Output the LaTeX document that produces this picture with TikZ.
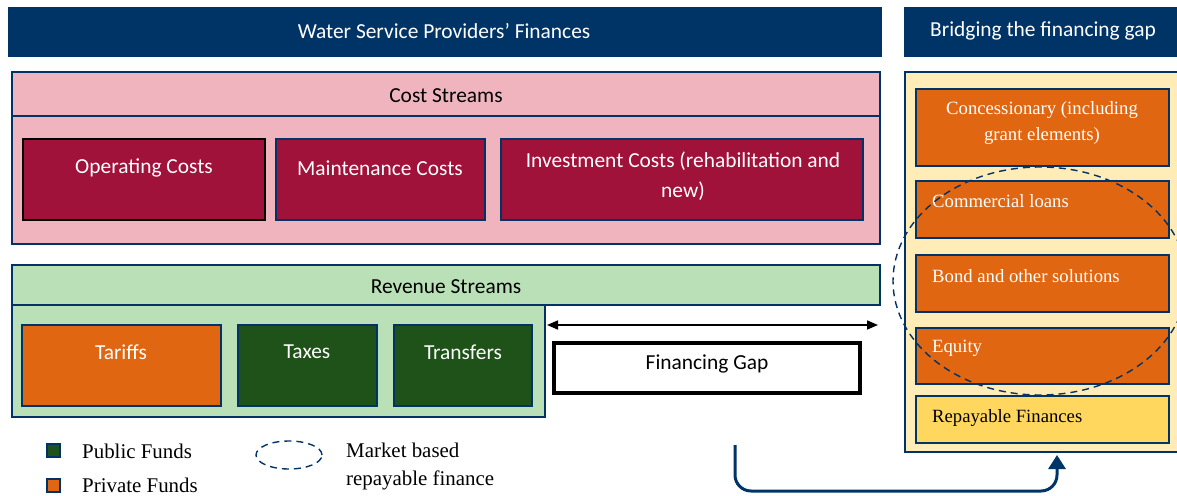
\documentclass[tikz,border=0pt]{standalone}
\usepackage{fontspec}
\setmainfont{Liberation Serif}
\setsansfont{Carlito}
\usetikzlibrary{arrows.meta}
\definecolor{navy}{RGB}{0,51,102}
\definecolor{costpink}{RGB}{240,180,190}
\definecolor{crimson}{RGB}{160,18,58}
\definecolor{revgreen}{RGB}{185,224,182}
\definecolor{darkgreen}{RGB}{30,82,24}
\definecolor{fundorange}{RGB}{224,102,18}
\definecolor{paleyellow}{RGB}{255,236,182}
\definecolor{repayyellow}{RGB}{255,215,95}
\begin{document}
\begin{tikzpicture}[x=1pt,y=-1pt,
  wh/.style 2 args={minimum width=#1pt, minimum height=#2pt},
  box/.style={draw=navy, line width=1.2pt, inner sep=0pt, outer sep=0pt, anchor=north west},
  sanstxt/.style={font=\sffamily\fontsize{21.4}{30}\selectfont, inner sep=0pt, align=center},
  seriftxt/.style={font=\rmfamily\fontsize{18.7}{26}\selectfont, inner sep=0pt, align=center},
  legtxt/.style={font=\rmfamily\fontsize{20.9}{30}\selectfont, inner sep=0pt, anchor=west},
  marketring/.style={draw=navy, line width=1.4pt, dash pattern=on 7pt off 5pt}
]
\useasboundingbox (0,0) rectangle (1177,495);

% headers
\node[box, fill=navy, wh={872}{48}] (hdrL) at (9,8) {};
\node[sanstxt, text=white] at (444,31) {Water Service Providers’ Finances};
\node[box, fill=navy, wh={280}{48}] (hdrR) at (905,8) {};
\node[sanstxt, text=white] at (1043,31) {Bridging the financing gap};

% cost streams
\node[box, fill=costpink, wh={868}{44}] (costH) at (12,72) {};
\node[sanstxt] at (446,96) {Cost Streams};
\node[box, fill=costpink, wh={868}{128}] (costB) at (12,116) {};
\node[box, draw=black, line width=1.8pt, fill=crimson, wh={242}{81}] (opc) at (23,139) {};
\node[sanstxt, text=white] at (144,168) {Operating Costs};
\node[box, fill=crimson, wh={209}{81}] (mnc) at (276,139) {};
\node[sanstxt, text=white] at (380,168) {Maintenance Costs};
\node[box, fill=crimson, wh={362}{81}] (inv) at (501,139) {};
\node[sanstxt, text=white] at (683,176) {Investment Costs (rehabilitation and\\new)};

% revenue streams
\node[box, fill=revgreen, wh={868}{40}] (revH) at (12,265) {};
\node[sanstxt] at (446,287) {Revenue Streams};
\node[box, fill=revgreen, wh={533}{112}] (revB) at (12,305) {};
\node[box, fill=fundorange, wh={199}{81}] (tar) at (22,325) {};
\node[sanstxt, text=white] at (121,352) {Tariffs};
\node[box, fill=darkgreen, wh={139}{81}] (tax) at (238,325) {};
\node[sanstxt, text=white] at (307,352) {Taxes};
\node[box, fill=darkgreen, wh={138}{81}] (trf) at (394,325) {};
\node[sanstxt, text=white] at (463,352) {Transfers};

% financing gap
\node[box, draw=black, line width=4pt, fill=white, wh={306}{50}] (gap) at (554,343) {};
\node[sanstxt] at (707,364) {Financing Gap};
\coordinate (gapL) at (547,325);
\coordinate (gapR) at (878,325);
\draw[line width=1.6pt, {Triangle[length=11pt,width=9pt]}-{Triangle[length=11pt,width=9pt]}] (gapL) -- (gapR);

% bridging options
\node[box, fill=paleyellow, wh={285}{380}] (panel) at (905,72) {};
\node[box, fill=fundorange, wh={253}{77}] (conc) at (916,89) {};
\node[seriftxt, text=white] at (1042,123) {Concessionary (including\\grant elements)};
\node[box, fill=fundorange, wh={253}{57}] (comm) at (916,181) {};
\node[seriftxt, text=white, anchor=west] at (932,201) {Commercial loans};
\node[box, fill=fundorange, wh={253}{57}] (bond) at (916,255) {};
\node[seriftxt, text=white, anchor=west] at (932,276) {Bond and other solutions};
\node[box, fill=fundorange, wh={253}{56}] (eq) at (916,328) {};
\node[seriftxt, text=white, anchor=west] at (932,348) {Equity};
\node[box, fill=repayyellow, wh={253}{47}] (rep) at (916,396) {};
\node[seriftxt, anchor=west] at (932,418) {Repayable Finances};

% market based repayable finance ring
\draw[marketring] (1040,281) ellipse [x radius=147pt, y radius=114pt];

% flow from the gap to the bridging options
\coordinate (flowStart) at (735,445);
\coordinate (flowEnd) at (1057,455);
\draw[navy, line width=3pt, rounded corners=16pt, -{Triangle[length=14pt,width=17pt]}]
  (flowStart) -- (735,491) -- (1057,491) -- (flowEnd);

% legend
\node[box, fill=darkgreen, wh={13}{13}] (legPub) at (47,444) {};
\node[legtxt] at (82,451) {Public Funds};
\node[box, fill=fundorange, wh={13}{13}] (legPriv) at (47,479) {};
\node[legtxt] at (82,485) {Private Funds};
\draw[marketring] (289,455) ellipse [x radius=33pt, y radius=14pt];
\node[legtxt] at (346,450) {Market based};
\node[legtxt] at (346,480) {repayable finance};
\end{tikzpicture}
\end{document}
